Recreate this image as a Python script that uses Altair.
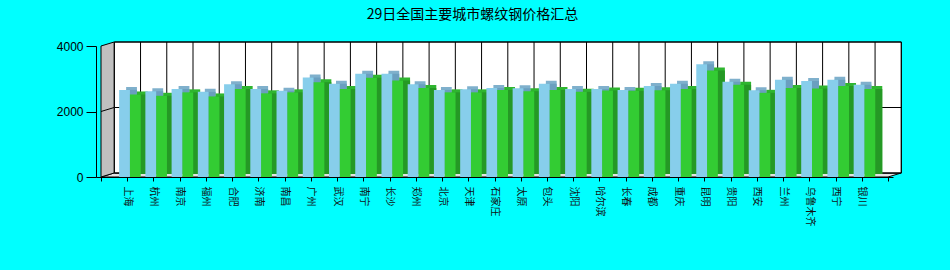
import json
import altair as alt
import pandas as pd

# ---------------- data ----------------
TITLE = "29日全国主要城市螺纹钢价格汇总"
CITIES = ["上海", "杭州", "南京", "福州", "合肥", "济南", "南昌", "广州", "武汉", "南宁",
          "长沙", "郑州", "北京", "天津", "石家庄", "太原", "包头", "沈阳", "哈尔滨", "长春",
          "成都", "重庆", "昆明", "贵阳", "西安", "兰州", "乌鲁木齐", "西宁", "银川"]
PRICE_A = [2660, 2620, 2690, 2600, 2830, 2690, 2630, 3040, 2845, 3150,
           3150, 2830, 2660, 2680, 2720, 2710, 2845, 2690, 2690, 2660,
           2780, 2845, 3440, 2905, 2650, 2970, 2935, 2970, 2815]
PRICE_B = [2520, 2480, 2585, 2460, 2690, 2555, 2585, 2890, 2690, 3030,
           2950, 2720, 2585, 2585, 2660, 2620, 2660, 2600, 2645, 2630,
           2650, 2690, 3250, 2815, 2570, 2720, 2705, 2775, 2690]
Y_TICKS = [0, 2000, 4000]

# ---------------- layout / style ----------------
W, H = 797, 131
PAD = {"left": 96, "top": 46, "right": 950 - 96 - 797, "bottom": 270 - 46 - 131}
N_SLOTS = len(CITIES) + 1
Y_MAX = Y_TICKS[-1]
WALL_DX, WALL_DY = 13.3, 4.0            # 3D depth of the chart box (px)
UX = WALL_DX / (W / N_SLOTS)             # same depth in data units
UY = WALL_DY / (H / Y_MAX)
BAR_W = 10.8
BAR_DX, BAR_DY = 7.0, 3.0                # 3D depth of bars (px)
OFF_A, OFF_B = -2.7, 8.1

C_A = ("#87CEEB", "#7fb0cc", "#6a9fbf")    # front, top, side
C_B = ("#33CC33", "#2fb52f", "#259925")

df = pd.DataFrame({"city": CITIES, "pos": list(range(1, len(CITIES) + 1)),
                   "a": PRICE_A, "b": PRICE_B})
df["base"] = 0

xs = alt.Scale(domain=[0, N_SLOTS], nice=False, zero=False)
ys = alt.Scale(domain=[0, Y_MAX], nice=False)

label_arr = json.dumps([""] + CITIES + [""], ensure_ascii=False)
X_AXIS = alt.Axis(values=list(range(N_SLOTS + 1)), labelExpr=f"{label_arr}[datum.value]",
                  labelAngle=90, tickSize=4, labelFontSize=10, labelFont="Noto Sans CJK SC",
                  labelColor="#111111", domainColor="black", tickColor="black", grid=False,
                  title=None, labelPadding=5, labelFlush=False, labelOverlap=False, labelBound=False)
Y_AXIS = alt.Axis(values=Y_TICKS, format="d", tickSize=10, labelFontSize=12,
                  labelFont="Liberation Sans", labelColor="black", domainColor="black",
                  tickColor="black", grid=False, title=None, labelPadding=3)


def X(field):
    return alt.X(field, type="quantitative", scale=xs, axis=X_AXIS)


def Y(field):
    return alt.Y(field, type="quantitative", scale=ys, axis=Y_AXIS)


# floor
floor_df = pd.DataFrame({"fx": [0, UX, N_SLOTS, N_SLOTS + UX],
                         "fy": [0, UY, UY, UY], "fy2": [0, 0, 0, UY]})
floor = alt.Chart(floor_df).mark_area(fill="#e4e4e4", stroke="black", strokeWidth=1,
                                      orient="vertical").encode(
    x=X("fx"), y=Y("fy"), y2="fy2")

# back wall
wall_df = pd.DataFrame({"x0": [0], "x1": [N_SLOTS], "y0": [0], "y1": [Y_MAX]})
back = alt.Chart(wall_df).mark_rect(fill="white", stroke="black", strokeWidth=1,
                                    xOffset=WALL_DX, x2Offset=WALL_DX,
                                    yOffset=-WALL_DY, y2Offset=-WALL_DY).encode(
    x=X("x0"), x2="x1", y=Y("y0"), y2="y1")

vg_df = pd.DataFrame({"k": list(range(N_SLOTS + 1)), "y0": 0, "y1": Y_MAX})
vgrid = alt.Chart(vg_df).mark_rule(color="black", strokeWidth=1, xOffset=WALL_DX,
                                   yOffset=-WALL_DY, y2Offset=-WALL_DY).encode(
    x=X("k"), y=Y("y0"), y2="y1")

hg_df = pd.DataFrame({"t": Y_TICKS, "x0": 0, "x1": N_SLOTS})
hgrid = alt.Chart(hg_df).mark_rule(color="black", strokeWidth=1, xOffset=WALL_DX,
                                   x2Offset=WALL_DX, yOffset=-WALL_DY).encode(
    x=X("x0"), x2="x1", y=Y("t"))

# left wall
lw_df = pd.DataFrame({"lx": [0, UX], "ly": [Y_MAX, Y_MAX + UY], "ly2": [0, UY]})
lwall = alt.Chart(lw_df).mark_area(fill="#c0c0c0", stroke="black", strokeWidth=1,
                                   orient="vertical").encode(
    x=X("lx"), y=Y("ly"), y2="ly2")

dg_df = pd.DataFrame({"t": Y_TICKS[1:-1]})
dg_df["d0"] = 0
dg_df["d1"] = UX
dg_df["t2"] = dg_df["t"] + UY
diag = alt.Chart(dg_df).mark_rule(color="black", strokeWidth=1).encode(
    x=X("d0"), x2="d1", y=Y("t"), y2="t2")


def bar_layers(field, off, colors):
    front, top, side = colors
    base = alt.Chart(df)
    sh_top = base.mark_bar(size=BAR_W, orient="vertical", color=top, xOffset=off + BAR_DX,
                           yOffset=-BAR_DY, y2Offset=-BAR_DY).encode(
        x=X("pos"), y=Y(field), y2="base")
    sh_side = base.mark_bar(size=BAR_W, orient="vertical", color=side, xOffset=off + BAR_DX,
                            y2Offset=-BAR_DY).encode(
        x=X("pos"), y=Y(field), y2="base")
    fr = base.mark_bar(size=BAR_W, orient="vertical", color=front, xOffset=off).encode(
        x=X("pos"), y=Y(field), y2="base", tooltip=["city", field])
    return [sh_top, sh_side], fr


shA, frA = bar_layers("a", OFF_A, C_A)
shB, frB = bar_layers("b", OFF_B, C_B)

chart = alt.layer(
    floor, back, vgrid, hgrid, lwall, diag, *shA, *shB, frA, frB
).properties(
    width=W, height=H, padding=PAD,
    autosize=alt.AutoSizeParams(type="none"),
    background="#00FFFF",
    title=alt.TitleParams(TITLE, anchor="middle", dx=-22, offset=18, fontSize=14,
                          font="Noto Sans CJK SC", fontWeight="normal", color="black"),
).configure_view(stroke=None)

chart.save("out.html", embed_options={"renderer": "svg", "actions": False})
